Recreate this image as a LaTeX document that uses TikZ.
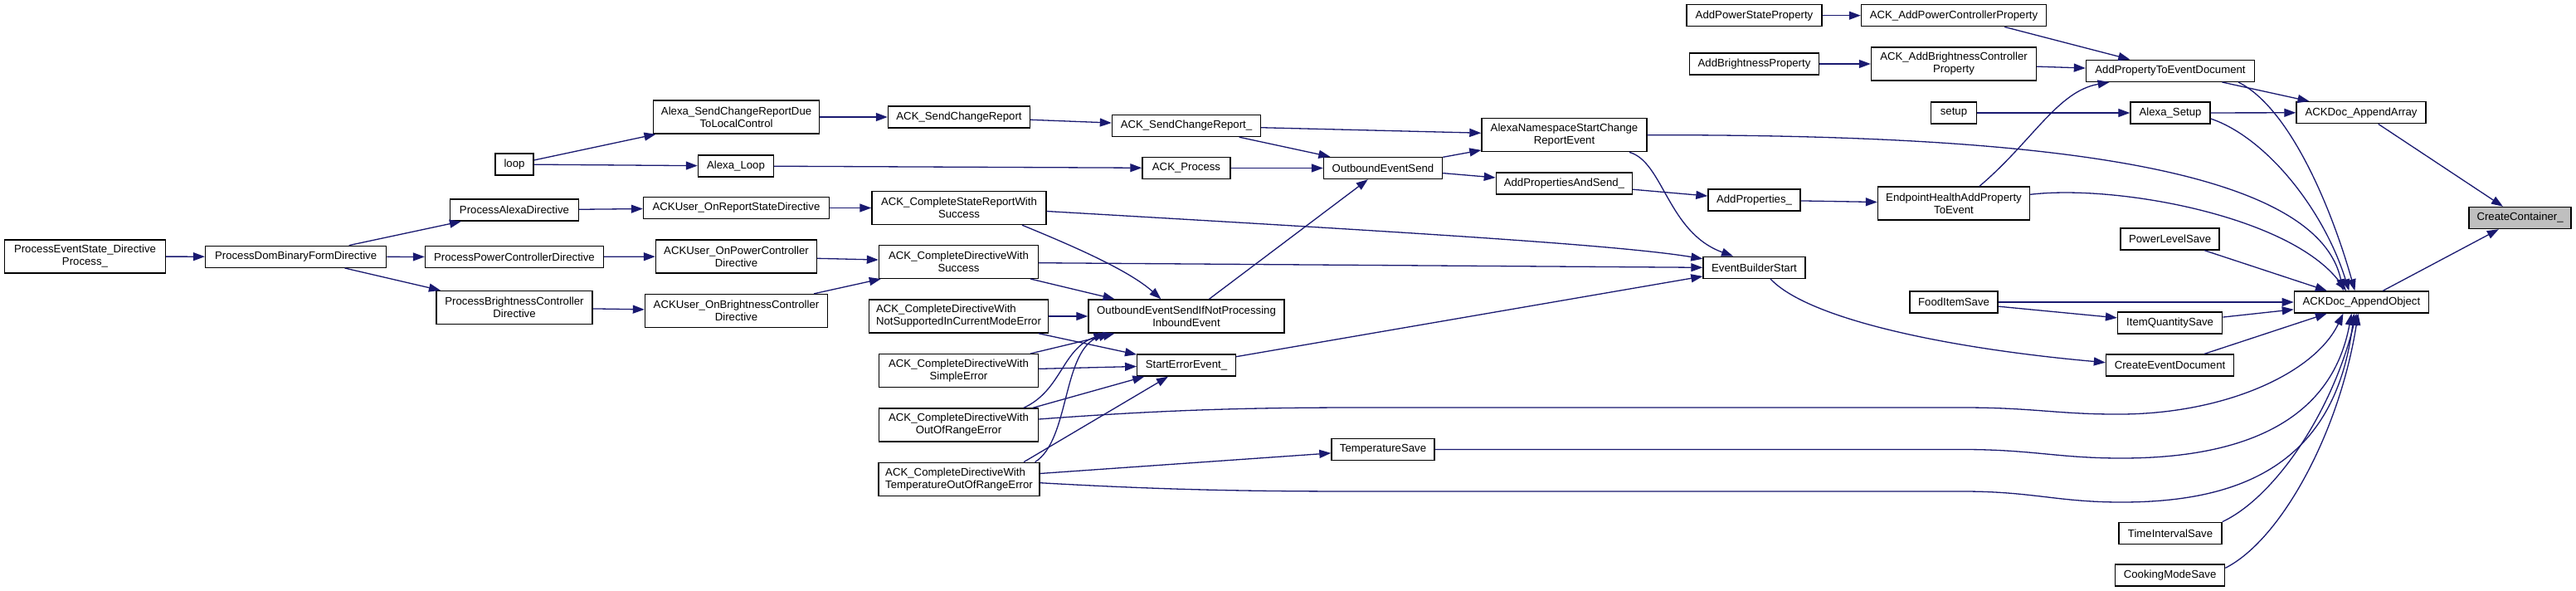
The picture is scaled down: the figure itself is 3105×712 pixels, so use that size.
\documentclass[tikz,border=0pt]{standalone}
\usepackage{fontspec}
\setmainfont{Liberation Sans}
\usetikzlibrary{arrows.meta,calc}
\definecolor{edgec}{HTML}{191970}
\definecolor{ccfill}{HTML}{BFBFBF}
\begin{document}
\begin{tikzpicture}[x=1pt,y=-1pt,
  fn/.style={draw=black,line width=1.4pt,fill=white,inner sep=0pt,minimum height=26pt,align=center,font=\fontsize{13.2}{15}\selectfont},
  fntwo/.style={fn,minimum height=40pt},
  call/.style={draw=edgec,line width=1.3pt,-{Triangle[length=14pt,width=10pt]}}]
\fill[white] (0,0) rectangle (3105,712);
\useasboundingbox (0,0) rectangle (3105,712);
% nodes
\node[fntwo,minimum width=194pt] (pes) at (102.5,309) {ProcessEventState\_Directive\\Process\_};
\node[fn,minimum width=218pt] (pdbf) at (356.6,309.3) {ProcessDomBinaryFormDirective};
\node[fn,minimum width=155pt] (pad) at (620,253) {ProcessAlexaDirective};
\node[fn,minimum width=215pt] (ppc) at (620,309.5) {ProcessPowerControllerDirective};
\node[fntwo,minimum width=188pt] (pbc) at (620,370.5) {ProcessBrightnessController\\Directive};
\node[fn,minimum width=46pt] (loop) at (620,198) {loop};
\node[fntwo,minimum width=200pt] (scrd) at (887.6,141) {Alexa\_SendChangeReportDue\\ToLocalControl};
\node[fn,minimum width=91pt] (aloop) at (887,200) {Alexa\_Loop};
\node[fn,minimum width=224pt] (uors) at (887.5,250.5) {ACKUser\_OnReportStateDirective};
\node[fntwo,minimum width=194pt] (uopc) at (887.5,309) {ACKUser\_OnPowerController\\Directive};
\node[fntwo,minimum width=220pt] (uobc) at (887.5,374.5) {ACKUser\_OnBrightnessController\\Directive};
\node[fn,minimum width=171pt] (scr) at (1156,141) {ACK\_SendChangeReport};
\node[fn,minimum width=179pt] (scru) at (1430,151.5) {ACK\_SendChangeReport\_};
\node[fntwo,minimum width=199pt] (ansr) at (1885.5,162.7) {AlexaNamespaceStartChange\\ReportEvent};
\node[fn,minimum width=106pt] (proc) at (1430,202.5) {ACK\_Process};
\node[fn,minimum width=143pt] (oes) at (1667,202.5) {OutboundEventSend};
\node[fn,minimum width=164pt] (pas) at (1885.4,221) {AddPropertiesAndSend\_};
\node[fntwo,minimum width=210pt] (csrs) at (1156,250.5) {ACK\_CompleteStateReportWith\\Success};
\node[fntwo,minimum width=192pt] (cdws) at (1155.5,315.3) {ACK\_CompleteDirectiveWith\\Success};
\node[fntwo,minimum width=216pt,align=left] (cdnm) at (1155.5,381) {ACK\_CompleteDirectiveWith\\NotSupportedInCurrentModeError};
\node[fntwo,minimum width=236pt] (oesi) at (1430,381) {OutboundEventSendIfNotProcessing\\InboundEvent};
\node[fn,minimum width=118.5pt] (see) at (1430,440) {StartErrorEvent\_};
\node[fntwo,minimum width=192pt] (cdse) at (1155.5,446.7) {ACK\_CompleteDirectiveWith\\SimpleError};
\node[fntwo,minimum width=192pt] (cdor) at (1155.5,512) {ACK\_CompleteDirectiveWith\\OutOfRangeError};
\node[fntwo,minimum width=194pt,align=left] (cdtr) at (1156,577.3) {ACK\_CompleteDirectiveWith\\TemperatureOutOfRangeError};
\node[fn,minimum width=124pt] (tsave) at (1667,541.5) {TemperatureSave};
\node[fn,minimum width=163pt] (aps) at (2114.5,18.7) {AddPowerStateProperty};
\node[fn,minimum width=223pt] (apcp) at (2355,18.7) {ACK\_AddPowerControllerProperty};
\node[fn,minimum width=156pt] (abp) at (2114.5,77) {AddBrightnessProperty};
\node[fntwo,minimum width=199pt] (abcp) at (2355,77) {ACK\_AddBrightnessController\\Property};
\node[fn,minimum width=203pt] (aptd) at (2616,85.3) {AddPropertyToEventDocument};
\node[fn,minimum width=55pt] (setup) at (2355,136) {setup};
\node[fn,minimum width=96pt] (asetup) at (2616,136) {Alexa\_Setup};
\node[fn,minimum width=156pt] (aarr) at (2846,135.7) {ACKDoc\_AppendArray};
\node[fntwo,minimum width=183pt] (ehap) at (2355,245) {EndpointHealthAddProperty\\ToEvent};
\node[fn,minimum width=111pt] (aprop) at (2114.5,241) {AddProperties\_};
\node[fn,minimum width=123pt,fill=ccfill] (cc) at (3037.6,262.5) {CreateContainer\_};
\node[fn,minimum width=119pt] (pls) at (2615.6,288) {PowerLevelSave};
\node[fn,minimum width=123pt] (ebs) at (2114.5,322.3) {EventBuilderStart};
\node[fn,minimum width=106pt] (fis) at (2355,364) {FoodItemSave};
\node[fn,minimum width=162pt] (aobj) at (2846.4,364) {ACKDoc\_AppendObject};
\node[fn,minimum width=126pt] (iqs) at (2615.6,389) {ItemQuantitySave};
\node[fn,minimum width=154pt] (ced) at (2615.5,440) {CreateEventDocument};
\node[fn,minimum width=124pt] (tis) at (2616,642.3) {TimeIntervalSave};
\node[fn,minimum width=132pt] (cms) at (2615.6,693) {CookingModeSave};
% edges
\draw[call] (pes) -- (pdbf);
\draw[call] (pdbf) -- (pad);
\draw[call] (pdbf) -- (ppc);
\draw[call] (pdbf) -- (pbc);
\draw[call] (loop) -- (scrd);
\draw[call] (loop) -- (aloop);
\draw[call] (pad) -- (uors);
\draw[call] (ppc) -- (uopc);
\draw[call] (pbc) -- (uobc);
\draw[call] (scrd) -- (scr);
\draw[call] (aloop) -- (proc);
\draw[call] (uors) -- (csrs);
\draw[call] (uopc) -- (cdws);
\draw[call] (uobc) -- (cdws);
\draw[call] (scr) -- (scru);
\draw[call] (scru) -- (ansr);
\draw[call] (scru) -- (oes);
\draw[call] (proc) -- (oes);
\draw[call] (oes) -- (ansr);
\draw[call] (oes) -- (pas);
\draw[call] (pas) -- (aprop);
\draw[call] ($(ansr.south)+(78.5,0)$) .. controls (2005,195) and (2010,280) .. ($(ebs.north)+(-25.5,0)$);
\draw[call] (ansr.east) .. controls (2400,162) and (2790,190) .. ($(aobj.north)+(-22,0)$);
\draw[call] ($(csrs.east)+(0,4)$) .. controls (1700,280) and (1950,295) .. ($(ebs.west)+(0,-10.5)$);
\draw[call] ($(csrs.south)+(76,0)$) .. controls (1290,295) and (1360,325) .. ($(oesi.north)+(-30.6,0)$);
\draw[call] ($(cdws.east)+(0,1.4)$) -- (ebs.west);
\draw[call] (cdws) -- (oesi);
\draw[call] (oesi) -- (oes);
\draw[call] (cdnm) -- (oesi);
\draw[call] (cdnm) -- (see);
\draw[call] (cdse) -- (oesi);
\draw[call] (cdse) -- (see);
\draw[call] ($(cdor.north)+(78.5,0)$) .. controls (1280,470) and (1280,420) .. ($(oesi.south)+(-97.6,0)$);
\draw[call] ($(cdor.north)+(89.5,0)$) -- ($(see.south)+(-50.7,0)$);
\draw[call] ($(cdor.east)+(0,-7)$) .. controls (1400,494) and (1500,491) .. (1640,491) -- (2366,491) .. controls (2450,491) and (2480,499) .. (2550,499) .. controls (2680,500) and (2790,450) .. ($(aobj.south)+(-22,0)$);
\draw[call] ($(cdtr.north)+(91.6,0)$) .. controls (1290,530) and (1280,420) .. ($(oesi.south)+(-92,0)$);
\draw[call] ($(cdtr.north)+(78,0)$) -- ($(see.south)+(-22,0)$);
\draw[call] (cdtr) -- (tsave);
\draw[call] ($(cdtr.east)+(0,4.4)$) .. controls (1400,590) and (1500,592) .. (1640,592) -- (2366,592) .. controls (2450,592) and (2480,605) .. (2557,605) .. controls (2700,605) and (2815,560) .. ($(aobj.south)+(-9,0)$);
\draw[call] (see) -- (ebs);
\draw[call] (tsave.east) -- (2366,541.5) .. controls (2450,541.5) and (2480,552) .. (2557,552) .. controls (2700,552) and (2810,510) .. ($(aobj.south)+(-12,0)$);
\draw[call] (aps) -- (apcp);
\draw[call] (abp) -- (abcp);
\draw[call] ($(apcp.south)+(61,0)$) -- ($(aptd.north)+(-48.7,0)$);
\draw[call] (abcp) -- (aptd);
\draw[call] (setup) -- (asetup);
\draw[call] (asetup) -- (aarr);
\draw[call] ($(asetup.east)+(0,7)$) .. controls (2730,165) and (2800,250) .. ($(aobj.north)+(-15,0)$);
\draw[call] (aptd) -- (aarr);
\draw[call] ($(aptd.south)+(82,0)$) .. controls (2760,130) and (2810,250) .. ($(aobj.north)+(-8,0)$);
\draw[call] ($(ehap.north)+(31,0)$) .. controls (2450,170) and (2480,110) .. ($(aptd.south)+(-73.4,0)$);
\draw[call] ($(ehap.east)+(0,-10.7)$) .. controls (2550,222) and (2760,260) .. ($(aobj.north)+(-18.4,0)$);
\draw[call] (aprop) -- (ehap);
\draw[call] (aarr) -- (cc);
\draw[call] (aobj) -- (cc);
\draw[call] (pls) -- (aobj);
\draw[call] (fis) -- (aobj);
\draw[call] (fis) -- (iqs);
\draw[call] (iqs) -- (aobj);
\draw[call] ($(ebs.south)+(19.5,0)$) .. controls (2180,385) and (2350,420) .. ($(ced.west)+(0,-3.3)$);
\draw[call] (ced) -- (aobj);
\draw[call] (tis.north east) .. controls (2740,600) and (2810,500) .. ($(aobj.south)+(-6,0)$);
\draw[call] ($(cms.north east)+(0,5)$) .. controls (2750,650) and (2820,520) .. ($(aobj.south)+(-4,0)$);
\end{tikzpicture}
\end{document}
